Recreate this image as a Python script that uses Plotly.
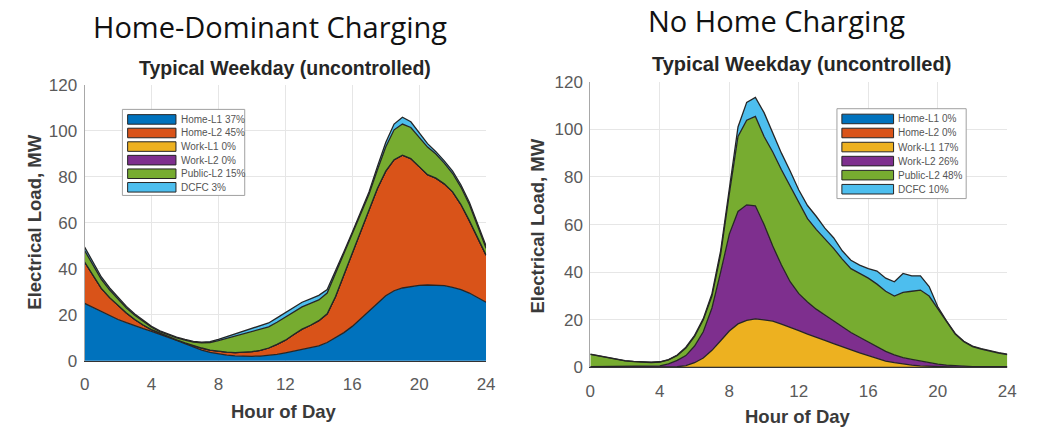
import plotly.graph_objects as go

hours = [i * 0.5 for i in range(49)]

# ---- Home-Dominant Charging (MW) ----
hd_home_l1 = [25.0, 23.2, 21.5, 19.7, 18.0, 16.6, 15.2, 14.0, 12.8, 11.6, 10.3, 8.9, 7.5, 6.0, 4.7, 3.7,
              3.0, 2.5, 2.2, 2.0, 2.0, 2.1, 2.3, 2.8, 3.5, 4.3, 5.0, 5.7, 6.5, 8.0, 10.0, 12.3,
              15.0, 18.2, 21.5, 25.0, 28.3, 30.5, 31.7, 32.3, 32.8, 33.0, 33.0, 32.7, 32.0, 31.0, 29.5, 27.5, 25.5]
hd_home_l2 = [18.0, 13.8, 10.0, 7.8, 6.0, 4.2, 2.8, 1.6, 0.8, 0.4, 0.2, 0.2, 0.3, 0.6, 0.9, 1.0,
              1.1, 1.3, 1.4, 1.7, 2.0, 2.5, 3.3, 4.4, 5.5, 7.2, 8.8, 9.8, 11.0, 12.5, 18.0, 25.2,
              32.0, 38.3, 44.5, 50.0, 54.2, 57.0, 57.8, 55.7, 51.7, 48.0, 46.5, 44.3, 41.5, 37.0, 31.5, 26.0, 20.5]
hd_work_l1 = [0.0] * 49
hd_work_l2 = [0.0] * 49
hd_public_l2 = [5.0, 4.5, 4.0, 3.3, 2.8, 2.2, 1.8, 1.4, 1.0, 0.7, 0.7, 0.9, 1.2, 1.6, 2.2, 3.3,
                4.7, 6.0, 7.2, 8.0, 8.5, 8.9, 9.2, 9.6, 10.0, 10.0, 9.7, 9.5, 9.0, 9.0, 10.0, 9.0,
                8.0, 7.0, 6.5, 8.0, 10.5, 13.0, 13.5, 13.5, 12.5, 12.0, 10.5, 9.0, 8.0, 7.5, 7.0, 5.0, 3.0]
hd_dcfc = [1.5, 1.2, 1.0, 0.9, 0.8, 0.7, 0.6, 0.5, 0.4, 0.4, 0.4, 0.3, 0.3, 0.3, 0.3, 0.4,
           0.6, 0.8, 1.0, 1.3, 1.5, 1.7, 1.7, 1.9, 2.0, 2.0, 2.0, 2.0, 2.0, 1.5, 1.0, 1.0,
           1.0, 1.0, 1.0, 1.5, 2.0, 2.5, 3.0, 2.5, 2.0, 1.5, 1.0, 1.0, 1.0, 1.0, 1.0, 1.0, 1.0]

# ---- No Home Charging (MW) ----
nh_home_l1 = [0.0] * 49
nh_home_l2 = [0.0] * 49
nh_work_l1 = [0.0, 0.0, 0.0, 0.0, 0.0, 0.0, 0.0, 0.0, 0.0, 0.1, 0.3, 0.8, 2.0, 4.0, 7.2, 11.2,
              15.3, 18.3, 19.8, 20.4, 20.1, 19.5, 18.2, 17.0, 15.5, 14.0, 12.8, 11.4, 10.0, 8.6, 7.3, 6.1,
              5.0, 3.8, 2.7, 2.0, 1.4, 1.0, 0.7, 0.5, 0.3, 0.2, 0.1, 0.0, 0.0, 0.0, 0.0, 0.0, 0.0]
nh_work_l2 = [0.4, 0.4, 0.4, 0.4, 0.4, 0.4, 0.4, 0.5, 0.7, 1.4, 2.7, 4.2, 7.0, 11.0, 17.8, 28.8,
              40.7, 47.2, 48.5, 47.5, 39.9, 31.5, 24.8, 19.0, 15.5, 13.5, 11.7, 10.6, 9.5, 8.4, 7.4, 6.6,
              5.8, 4.9, 4.1, 3.3, 2.7, 2.4, 2.0, 1.5, 1.1, 0.8, 0.6, 0.5, 0.4, 0.4, 0.4, 0.4, 0.4]
nh_public_l2 = [5.1, 4.4, 3.6, 3.0, 2.4, 2.1, 1.8, 1.6, 1.6, 1.7, 2.0, 3.2, 4.0, 5.0, 5.0, 7.5,
                17.0, 31.5, 35.5, 37.5, 37.0, 39.5, 40.0, 40.0, 38.0, 35.0, 33.5, 32.0, 30.5, 28.5, 26.8, 26.8,
                26.7, 26.3, 25.2, 24.7, 27.4, 28.6, 29.8, 28.0, 23.1, 18.2, 13.3, 10.3, 8.4, 7.3, 6.4, 5.6, 5.0]
nh_dcfc = [0.1, 0.1, 0.1, 0.1, 0.1, 0.1, 0.1, 0.1, 0.1, 0.1, 0.2, 0.3, 0.5, 0.5, 1.0, 1.5,
           2.0, 4.0, 7.5, 8.0, 10.0, 8.0, 7.0, 6.5, 5.5, 5.5, 5.5, 4.5, 4.5, 3.5, 3.5, 3.5,
           4.0, 5.5, 5.5, 6.0, 8.0, 6.5, 6.0, 4.0, 1.0, 0.4, 0.3, 0.2, 0.2, 0.2, 0.2, 0.2, 0.2]

series_names = ["Home-L1", "Home-L2", "Work-L1", "Work-L2", "Public-L2", "DCFC"]
colors = ["#0072BD", "#D95319", "#EDB120", "#7E2F8E", "#77AC30", "#4DBEEE"]
hd_shares = ["37%", "45%", "0%", "0%", "15%", "3%"]
nh_shares = ["0%", "0%", "17%", "26%", "48%", "10%"]

hd_data = [hd_home_l1, hd_home_l2, hd_work_l1, hd_work_l2, hd_public_l2, hd_dcfc]
nh_data = [nh_home_l1, nh_home_l2, nh_work_l1, nh_work_l2, nh_public_l2, nh_dcfc]

x_ticks = [0, 4, 8, 12, 16, 20, 24]
y_ticks = [0, 20, 40, 60, 80, 100, 120]

title_left = "Home-Dominant Charging"
title_right = "No Home Charging"
subtitle = "Typical Weekday (uncontrolled)"
x_title = "Hour of Day"
y_title = "Electrical Load, MW"

W, H = 1040, 432
EDGE = "#262626"

fig = go.Figure()

for name, col, share, vals in zip(series_names, colors, hd_shares, hd_data):
    fig.add_trace(go.Scatter(
        x=hours, y=vals, name=f"{name} {share}", stackgroup="hd", mode="lines",
        line=dict(color=EDGE, width=1.3), fillcolor=col, showlegend=False,
        xaxis="x", yaxis="y"))

for name, col, share, vals in zip(series_names, colors, nh_shares, nh_data):
    fig.add_trace(go.Scatter(
        x=hours, y=vals, name=f"{name} {share}", stackgroup="nh", mode="lines",
        line=dict(color=EDGE, width=1.3), fillcolor=col, showlegend=False,
        xaxis="x2", yaxis="y2"))

tick_font = dict(family="Liberation Sans, Arial", size=17, color="#5a5a5a")
yaxis_common = dict(showgrid=True, gridcolor="#e6e6e6", gridwidth=1, zeroline=False,
                    showline=True, linecolor="#a8a8a8", linewidth=1, ticks="",
                    tickfont=tick_font, ticklabelstandoff=3)
xaxis_common = dict(showgrid=True, gridcolor="#e6e6e6", gridwidth=1, zeroline=False,
                    showline=True, linecolor="#333333", linewidth=1, ticks="",
                    tickfont=tick_font, ticklabelstandoff=8)

fig.update_layout(
    width=W, height=H,
    margin=dict(l=0, r=0, t=0, b=0),
    paper_bgcolor="white", plot_bgcolor="white",
    showlegend=False,
    xaxis=dict(domain=[0.0776, 0.4689], range=[0, 24], tickvals=x_ticks, anchor="y", **xaxis_common),
    yaxis=dict(domain=[0.148, 0.816], range=[0, 120], tickvals=y_ticks, anchor="x", **yaxis_common),
    xaxis2=dict(domain=[0.5705, 0.9769], range=[0, 24], tickvals=x_ticks, anchor="y2", **xaxis_common),
    yaxis2=dict(domain=[0.132, 0.824], range=[0, 120], tickvals=y_ticks, anchor="x2", **yaxis_common),
)

big_font = dict(family="Open Sans, Noto Sans", size=29, color="#111111")
lab_font = dict(family="Liberation Sans, Arial", size=18.5, color="#3a3a3a")

annots = [
    dict(text=title_left, x=0.2585, y=0.957, font=big_font),
    dict(text=title_right, x=0.752, y=0.971, font=big_font),
    dict(text=f"<b>{subtitle}</b>", x=0.2725, y=0.857,
         font=dict(family="Liberation Sans, Arial", size=19.5, color="#262626")),
    dict(text=f"<b>{subtitle}</b>", x=0.7765, y=0.866,
         font=dict(family="Liberation Sans, Arial", size=20, color="#262626")),
    dict(text=f"<b>{y_title}</b>", x=0.0288, y=0.484, textangle=-90, font=lab_font),
    dict(text=f"<b>{y_title}</b>", x=0.519, y=0.4745, textangle=-90, font=lab_font),
    dict(text=f"<b>{x_title}</b>", x=0.272, y=0.025, font=lab_font),
    dict(text=f"<b>{x_title}</b>", x=0.773, y=0.014, font=lab_font),
]
for a in annots:
    fig.add_annotation(xref="paper", yref="paper", xanchor="center", yanchor="middle",
                       showarrow=False, **a)

# ---- MATLAB-style legends (box, wide swatches, labels) ----
legend_specs = [
    dict(box=(119, 105, 243, 195), sw=(124.3, 173.3), row0=115.5, step=14.2, tx=176, shares=hd_shares),
    dict(box=(843.3, 104.3, 974.3, 198.3), sw=(848.3, 900.7), row0=115.0, step=14.7, tx=902.7, shares=nh_shares),
]

def px(x):
    return x / W

def py(y):
    return 1 - y / H

for spec in legend_specs:
    bx0, by0, bx1, by1 = spec["box"]
    fig.add_shape(type="rect", xref="paper", yref="paper",
                  x0=px(bx0), x1=px(bx1), y0=py(by1), y1=py(by0),
                  line=dict(color="#a0a0a0", width=1), fillcolor="white", layer="above")
    for i, (name, col, share) in enumerate(zip(series_names, colors, spec["shares"])):
        cy = spec["row0"] + spec["step"] * i
        fig.add_shape(type="rect", xref="paper", yref="paper",
                      x0=px(spec["sw"][0]), x1=px(spec["sw"][1]),
                      y0=py(cy + 5), y1=py(cy - 5),
                      line=dict(color=EDGE, width=1), fillcolor=col, layer="above")
        fig.add_annotation(xref="paper", yref="paper", x=px(spec["tx"]), y=py(cy),
                           xanchor="left", yanchor="middle", showarrow=False,
                           text=f"{name} {share}",
                           font=dict(family="Liberation Sans, Arial", size=10, color="#555555"))

fig.write_html("out.html")
